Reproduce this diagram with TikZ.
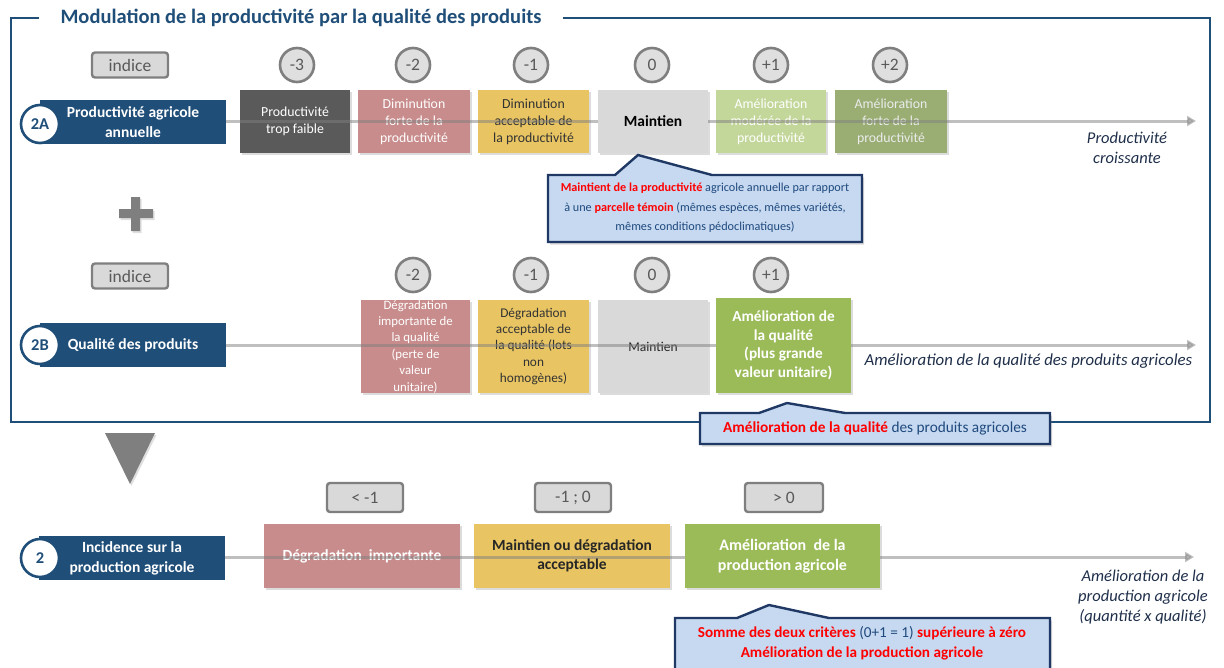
\documentclass[tikz,border=0pt]{standalone}
\usepackage{fontspec}
\setmainfont{Carlito}
\usetikzlibrary{shadows,arrows.meta}

\definecolor{navy}{HTML}{1F4E79}
\definecolor{callfill}{HTML}{C6D9F1}
\definecolor{callline}{HTML}{1F3864}
\definecolor{calltext}{HTML}{1F497D}
\definecolor{pinkc}{HTML}{C98C8C}
\definecolor{yellowc}{HTML}{E8C463}
\definecolor{darkc}{HTML}{5A5A5A}
\definecolor{lightc}{HTML}{D9D9D9}
\definecolor{lgreen}{HTML}{C4D79B}
\definecolor{olivec}{HTML}{9AAE74}
\definecolor{goodgreen}{HTML}{9BBB59}
\definecolor{badge}{HTML}{7F7F7F}
\definecolor{badgetext}{HTML}{595959}
\definecolor{sidetext}{HTML}{1F2F4A}
\definecolor{alertred}{HTML}{FF0000}

\newcommand{\redbf}[1]{\textbf{\textcolor{alertred}{#1}}}
\newcommand{\fs}[2]{\fontsize{#1}{#2}\selectfont}

\tikzset{
  shade box/.style={drop shadow={opacity=0.28,shadow xshift=1.5pt,shadow yshift=-2pt}},
  cell/.style={shade box,inner sep=0pt,align=center,minimum height=#1},
  cell/.default=63,
  numc/.style={circle,minimum size=34,inner sep=0pt,fill=lightc!85!white,draw=badge,
    line width=2.6pt,text=badgetext,font=\fs{17.5}{19}},
  tagbox/.style={rounded corners=3pt,minimum height=25,inner sep=0pt,fill=lightc,draw=badge,
    line width=2.4pt,text=badgetext,font=\fs{17.5}{19}},
  lab/.style={fill=navy,text=white,minimum width=186,minimum height=44,inner sep=0pt,
    align=center,font=\bfseries\fs{15.5}{20}},
  labc/.style={circle,fill=white,draw=navy,line width=2.6pt,minimum size=38,inner sep=0pt,
    text=navy,font=\bfseries\fs{16.5}{18}},
  axis/.style={draw=badge,opacity=0.5,line width=3pt,
    -{Triangle[length=9pt,width=10pt]}},
  callout/.style={fill=callfill,draw=callline,line width=2.4pt,line join=miter,
    drop shadow={opacity=0.3,shadow xshift=2pt,shadow yshift=-2.5pt}},
  calltxt/.style={align=center,text=calltext,inner sep=0pt},
  side/.style={align=center,text=sidetext,font=\itshape\fs{16.5}{20}},
}

\begin{document}
\begin{tikzpicture}[x=1pt,y=-1pt]
\useasboundingbox (0,0) rectangle (1224,667);

% ---------- outer frame and title ----------
\draw[navy,line width=2pt] (11,18) rectangle (1210,422);
\node[fill=white,inner xsep=22pt,inner ysep=2pt,text=navy,font=\bfseries\fs{20.5}{24}]
  (title) at (301,18) {Modulation de la productivité par la qualité des produits};

% ---------- row 2A : productivity ----------
\node[tagbox,minimum width=76] (ind2A) at (130,65) {indice};
\foreach \x/\v/\n in {297/-3/a,413/-2/b,531/-1/c,652/0/d,771/+1/e,890/+2/f}
  \node[numc] (n2A\n) at (\x,65) {\v};

\node[cell,fill=darkc,minimum width=110,text=white,font=\fs{13.8}{17}]
  (b2Aa) at (295,121.5) {Productivité\\trop faible};
\node[cell,fill=pinkc,minimum width=112,text=white,font=\fs{13.8}{17}]
  (b2Ab) at (414,121.5) {Diminution\\forte de la\\productivité};
\node[cell,fill=yellowc,minimum width=111,text=black!80,font=\fs{13.8}{17}]
  (b2Ac) at (533.5,121.5) {Diminution\\acceptable de\\la productivité};
\node[cell,fill=lgreen,minimum width=110,text=white,font=\fs{13.8}{17}]
  (b2Ae) at (771,121.5) {Amélioration\\modérée de la\\productivité};
\node[cell,fill=olivec,minimum width=112,text=white!92!black,font=\fs{13.8}{17}]
  (b2Af) at (891,121.5) {Amélioration\\forte de la\\productivité};

\node[lab] (l2A) at (133,122) {Productivité agricole\\annuelle};
\coordinate (e2A) at (1196,121);
\draw[axis] (l2A.east |- e2A) -- (e2A);
\node[cell,fill=lightc,minimum width=110,text=black,font=\bfseries\fs{15.5}{18}]
  (b2Ad) at (653,121.5) {Maintien};
\node[labc] (c2A) at (40,124) {2A};

\node[side] (s2A) at (1127,148) {Productivité\\croissante};

% callout under "Maintien"
\draw[callout] (548,175) -- (615,175) -- (638,155) -- (712,175) -- (862,175)
  -- (862,242) -- (548,242) -- cycle;
\node[calltxt,font=\fs{12.2}{19.5}] (t2A) at (705,208)
  {\redbf{Maintient de la productivité} agricole annuelle par rapport\\
   à une \redbf{parcelle témoin} (mêmes espèces, mêmes variétés,\\
   mêmes conditions pédoclimatiques)};

% plus sign between the two criteria
\fill[badge,drop shadow={opacity=0.25,shadow xshift=1.5pt,shadow yshift=-2pt}]
  (119,209) -- (131,209) -- (131,197) -- (140,197) -- (140,209) -- (153,209)
  -- (153,218) -- (140,218) -- (140,231) -- (131,231) -- (131,218) -- (119,218) -- cycle;

% ---------- row 2B : product quality ----------
\node[tagbox,minimum width=76] (ind2B) at (130,276) {indice};
\foreach \x/\v/\n in {413/-2/b,531/-1/c,652/0/d,771/+1/e}
  \node[numc] (n2B\n) at (\x,275) {\v};

\node[cell=93,fill=pinkc,minimum width=109,text=white,font=\fs{12.8}{16.4}]
  (b2Bb) at (415.5,346.5) {Dégradation\\importante de\\la qualité\\(perte de\\valeur\\unitaire)};
\node[cell=93,fill=yellowc,minimum width=111,text=black!80,font=\fs{13.3}{16.3}]
  (b2Bc) at (533.5,346.5) {Dégradation\\acceptable de\\la qualité (lots\\non\\homogènes)};
\node[cell=93,fill=lightc,minimum width=110,text=black!85,font=\fs{13.5}{16}]
  (b2Bd) at (653,346.5) {Maintien};

\node[lab] (l2B) at (133,345) {Qualité des produits};
\coordinate (e2B) at (1196,345);
\draw[axis] (l2B.east) -- (e2B);
\node[cell=95,fill=goodgreen,minimum width=135,text=white,font=\bfseries\fs{15.3}{18.5}]
  (b2Be) at (783.5,345.5) {Amélioration de\\la qualité\\(plus grande\\valeur unitaire)};
\node[labc] (c2B) at (40,345) {2B};

\node[side,anchor=west,font=\itshape\fs{16.8}{20}] (s2B) at (861,361)
  {Amélioration de la qualité des produits agricoles};

% callout under the quality improvement
\draw[callout] (700,413) -- (759,413) -- (787,403) -- (845,413) -- (1050,413)
  -- (1050,444) -- (700,444) -- cycle;
\node[calltxt,font=\fs{15.3}{18}] (t2B) at (875,428.5)
  {\redbf{Amélioration de la qualité} des produits agricoles};

% ---------- combination arrow ----------
\fill[badge,drop shadow={opacity=0.25,shadow xshift=1.5pt,shadow yshift=-2pt}]
  (105,433) -- (155,433) -- (130,484) -- cycle;

% ---------- row 2 : effect on production ----------
\node[tagbox,minimum width=76,minimum height=29] (r2a) at (365,497.5) {< -1};
\node[tagbox,minimum width=76,minimum height=29] (r2b) at (573,497.5) {-1 ; 0};
\node[tagbox,minimum width=78,minimum height=29] (r2c) at (784,497.5) {> 0};

\node[cell=64,fill=pinkc,minimum width=196,text=white,font=\bfseries\fs{15.5}{19.5}]
  (b2a) at (362,556) {Dégradation\ \ importante};
\node[cell=64,fill=yellowc,minimum width=196,text=black!85,font=\bfseries\fs{15.5}{19.5}]
  (b2b) at (572,556) {Maintien ou dégradation\\acceptable};

\node[lab] (l2) at (132,558) {Incidence sur la\\production agricole};
\coordinate (e2) at (1194,557);
\draw[axis] (l2.east |- e2) -- (e2);
\node[cell=64,fill=goodgreen,minimum width=195,text=white,font=\bfseries\fs{16}{20.5}]
  (b2c) at (782.5,556) {Amélioration\ \ de la\\production agricole};
\node[labc] (c2) at (40,558) {2};

\node[side] (s2) at (1143,597)
  {Amélioration de la\\production agricole\\(quantité x qualité)};

% callout for the final result
\draw[callout] (675,618) -- (737,618) -- (769,605) -- (829,618) -- (1050,618)
  -- (1050,680) -- (675,680) -- cycle;
\node[calltxt,font=\fs{15.2}{19.5}] (t2) at (862,643)
  {\redbf{Somme des deux critères} (0+1 = 1) \redbf{supérieure à zéro}\\
   \redbf{Amélioration de la production agricole}};
\end{tikzpicture}
\end{document}
